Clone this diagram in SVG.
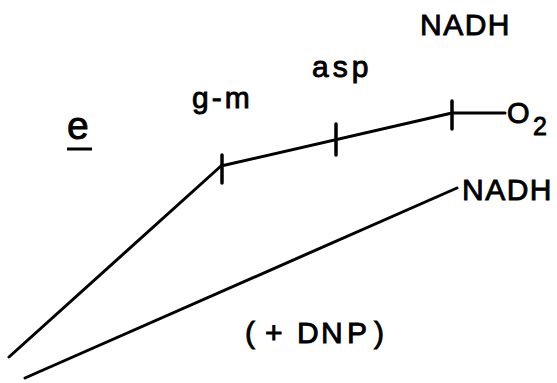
<svg xmlns="http://www.w3.org/2000/svg" width="557" height="383" viewBox="0 0 557 383">
<style>
.t{font-family:"Liberation Sans",Arial,sans-serif;font-size:30px;fill:#000;stroke:#000;stroke-width:0.9}
.ln{fill:none;stroke:#000;stroke-width:3;stroke-linecap:round;stroke-linejoin:round}
.tk{stroke:#000;stroke-width:3.5;stroke-linecap:round}
</style>
<rect width="557" height="383" fill="#fff"/>
<g id="connectors">
<polyline class="ln" points="9,357 221,166 452,113 505,113"/>
<line class="ln" x1="25" y1="378" x2="457" y2="188"/>
<line class="tk" x1="222" y1="155" x2="222" y2="183"/>
<line class="tk" x1="336" y1="124" x2="336" y2="155"/>
<line class="tk" x1="452" y1="101" x2="452" y2="129"/>
</g>
<g id="label-e">
<text class="t" x="67" y="139" style="font-size:39px">e</text>
<line x1="67" y1="149" x2="92" y2="149" stroke="#000" stroke-width="3"/>
</g>
<g id="node-gm"><text class="t" x="192" y="108" letter-spacing="3">g-m</text></g>
<g id="node-asp"><text class="t" x="312" y="77" letter-spacing="4">asp</text></g>
<g id="node-nadh-top"><text class="t" x="420" y="35" letter-spacing="1.5">NADH</text></g>
<g id="node-o2"><text class="t" x="507" y="123" style="font-size:29px">O</text><text class="t" x="533" y="135" style="font-size:25px">2</text></g>
<g id="node-nadh-bottom"><text class="t" x="462" y="200" letter-spacing="1.5">NADH</text></g>
<g id="label-dnp"><text class="t" x="245 265 297 321 347 374" y="343">(+DNP)</text></g>
</svg>
